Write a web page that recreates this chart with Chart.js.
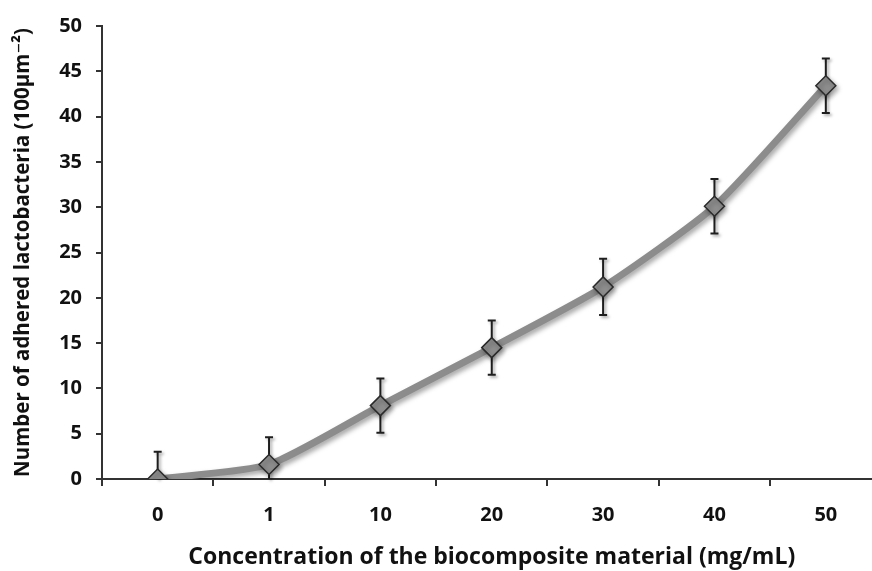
<!DOCTYPE html>
<html>
<head>
<meta charset="utf-8">
<script src="https://cdn.jsdelivr.net/npm/chart.js@4"></script>
<style>
  html, body { margin: 0; padding: 0; background: #fff; overflow: hidden; }
  #wrap { position: absolute; left: 0; top: 0; width: 893px; height: 571px; }
</style>
</head>
<body>
<div id="wrap"><canvas id="chart"></canvas></div>
<script>
// values
const concentrations = ["0", "1", "10", "20", "30", "40", "50"]
const adhered = [0, 1.6, 8.1, 14.5, 21.2, 30.1, 43.4]
const errors = [3, 3, 3, 3, 3.1, 3, 3]
const yTicks = [0, 5, 10, 15, 20, 25, 30, 35, 40, 45, 50]

const font = "'Open Sans', 'DejaVu Sans', sans-serif"

// error bars, drawn under the line and markers
const errorBars = {
  id: "errorBars",
  beforeDatasetsDraw(chart) {
    const ctx = chart.ctx
    const x = chart.scales.x
    const y = chart.scales.y
    ctx.save()
    ctx.strokeStyle = "#1e1e1e"
    ctx.lineWidth = 2
    ctx.shadowColor = "rgba(0,0,0,0.35)"
    ctx.shadowBlur = 3
    ctx.shadowOffsetX = 2
    ctx.shadowOffsetY = 2
    adhered.forEach((v, i) => {
      const px = x.getPixelForValue(i)
      const top = y.getPixelForValue(v + errors[i])
      const bot = y.getPixelForValue(Math.max(v - errors[i], 0))
      ctx.beginPath()
      ctx.moveTo(px, top)
      ctx.lineTo(px, bot)
      ctx.moveTo(px - 4, top)
      ctx.lineTo(px + 4, top)
      if (v - errors[i] > 0) {
        ctx.moveTo(px - 4, bot)
        ctx.lineTo(px + 4, bot)
      }
      ctx.stroke()
    })
    ctx.restore()
  }
}

// soft shadow under the series
const seriesShadow = {
  id: "seriesShadow",
  beforeDatasetDraw(chart) {
    const ctx = chart.ctx
    ctx.save()
    ctx.shadowColor = "rgba(0,0,0,0.35)"
    ctx.shadowBlur = 5
    ctx.shadowOffsetX = 2
    ctx.shadowOffsetY = 3
  },
  afterDatasetDraw(chart) {
    chart.ctx.restore()
  }
}

new Chart(document.getElementById("chart"), {
  type: "line",
  data: {
    labels: concentrations,
    datasets: [{
      data: adhered,
      borderColor: "#8c8c8c",
      borderWidth: 7,
      tension: 0.2,
      pointStyle: "rectRot",
      pointRadius: 10,
      pointBackgroundColor: "#8e8e8e",
      pointBorderColor: "#2a2a2a",
      pointBorderWidth: 1.5
    }]
  },
  options: {
    responsive: true,
    maintainAspectRatio: false,
    animation: false,
    layout: { padding: { top: 25, right: 10, left: 0, bottom: 0 } },
    plugins: {
      legend: { display: false },
      tooltip: { enabled: false }
    },
    scales: {
      x: {
        type: "category",
        offset: true,
        grid: { drawOnChartArea: false, offset: true, tickLength: 7, color: "#333", lineWidth: 2 },
        border: { color: "#333", width: 2 },
        ticks: { color: "#111", font: { family: font, size: 20, weight: "bold" }, padding: 17, maxRotation: 0 },
        title: {
          display: true,
          text: "Concentration of the biocomposite material (mg/mL)",
          color: "#111",
          font: { family: font, size: 23, weight: "bold" },
          padding: { top: 2, bottom: 0 }
        },
        afterFit(scale) { scale.height = 92 }
      },
      y: {
        min: 0,
        max: 50,
        afterBuildTicks(scale) { scale.ticks = yTicks.map(v => ({ value: v })) },
        grid: { drawOnChartArea: false, tickLength: 6, color: "#333", lineWidth: 2 },
        border: { color: "#333", width: 2 },
        ticks: { color: "#111", font: { family: font, size: 20, weight: "bold" }, padding: 14 },
        title: {
          display: true,
          text: "Number of adhered lactobacteria (100µm⁻²)",
          color: "#111",
          font: { family: font, size: 20.5, weight: "bold" },
          padding: { top: 11, bottom: 0 }
        },
        afterFit(scale) { scale.width = 102 }
      }
    }
  },
  plugins: [errorBars, seriesShadow]
})
</script>
</body>
</html>
